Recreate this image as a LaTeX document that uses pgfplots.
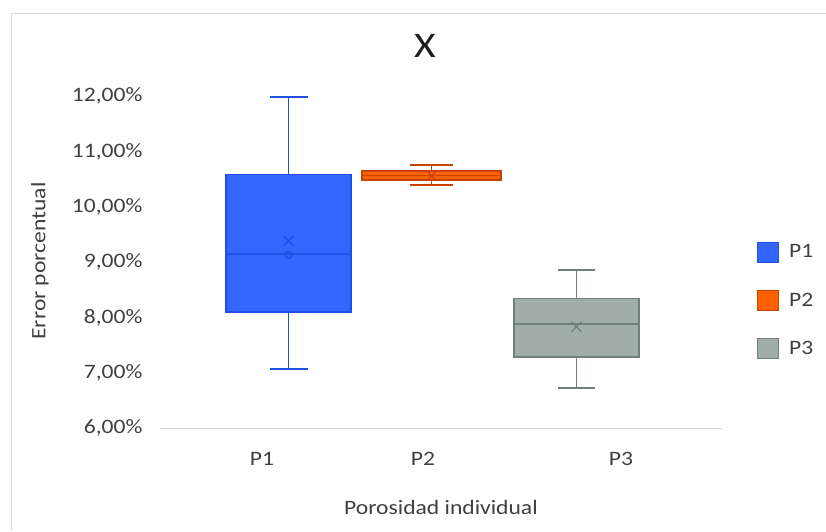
\documentclass[border=0pt]{standalone}
\usepackage{fontspec}
\setmainfont{Carlito}[FakeStretch=1.15]
\usepackage{pgfplots}
\pgfplotsset{compat=1.18}
\usepgfplotslibrary{statistics}
\definecolor{txt}{HTML}{404040}
\definecolor{ttl}{HTML}{1E1E1E}
\definecolor{frame}{HTML}{D9D9D9}
\definecolor{bluefill}{HTML}{3366FF}
\definecolor{blueline}{HTML}{1E4FE6}
\definecolor{orfill}{HTML}{FF6000}
\definecolor{orline}{HTML}{C84400}
\definecolor{grfill}{HTML}{A0ADA9}
\definecolor{grline}{HTML}{6E807C}
\begin{document}
\begin{tikzpicture}
\path[use as bounding box] (0pt,0pt) rectangle (826pt,531pt);
\draw[frame, line width=1pt] (11pt,0pt) -- (11pt,517pt) -- (826pt,517pt);
\begin{axis}[
  at={(160pt,103pt)}, anchor=south west,
  scale only axis, width=562pt, height=332pt,
  xmin=1.60, xmax=7.22, ymin=6, ymax=12,
  boxplot/draw direction=y,
  boxplot/every whisker/.style={line width=1.8pt},
  boxplot/every box/.style={line width=1.8pt},
  boxplot/every median/.style={line width=1.6pt},
  axis x line*=bottom, axis y line*=left,
  axis line style={draw=none},
  xtick={2.62,4.23,6.21}, xticklabels={P1,P2,P3},
  ytick={6,7,8,9,10,11,12},
  yticklabels={{6,00\%},{7,00\%},{8,00\%},{9,00\%},{10,00\%},{11,00\%},{12,00\%}},
  major tick length=0pt,
  tick label style={font=\fontsize{20.5}{24}\selectfont, text=txt},
  xticklabel style={yshift=-21pt},
  yticklabel style={xshift=-14pt},
  ylabel={Error porcentual},
  xlabel={Porosidad individual},
  label style={font=\fontsize{20.5}{24}\selectfont, text=txt},
  ylabel style={at={(axis description cs:-0.2135,0.503)}, anchor=center},
  xlabel style={at={(axis description cs:0.5,-0.238)}, anchor=center},
  title={X},
  title style={at={(axis description cs:0.4715,1.133)}, anchor=center, font=\fontsize{36}{40}\selectfont, text=ttl},
  legend style={at={(axis description cs:1.0623,0.562)}, anchor=north west, draw=none, fill=none,
     font=\fontsize{20.5}{24}\selectfont, text=txt, inner sep=0pt, row sep=27pt,
     nodes={inner sep=0pt}, column sep=10pt},
  legend cell align=left,
  legend image code/.code={\draw[#1] (0pt,-10pt) rectangle (21pt,10pt);},
  clip=false,
]
\draw[frame, line width=1pt] (axis cs:1.60,6) -- (axis cs:7.22,6);
\addplot[forget plot, fill=bluefill, draw=blueline, line width=1.6pt,
  boxplot prepared={draw position=2.885, box extend=1.25, whisker extend=0.38,
    lower whisker=7.07, lower quartile=8.09, median=9.14, upper quartile=10.58, upper whisker=11.98}]
  coordinates {};
\addplot[forget plot, fill=orfill, draw=orline, line width=1.6pt,
  boxplot prepared={draw position=4.315, box extend=1.39, whisker extend=0.43,
    lower whisker=10.39, lower quartile=10.48, median=10.565, upper quartile=10.65, upper whisker=10.75}]
  coordinates {};
\addplot[forget plot, fill=grfill, draw=grline, line width=1.6pt,
  boxplot prepared={draw position=5.765, box extend=1.25, whisker extend=0.37,
    lower whisker=6.73, lower quartile=7.28, median=7.88, upper quartile=8.34, upper whisker=8.85}]
  coordinates {};
% means
\addplot[forget plot, only marks, mark=x, mark size=7pt, draw=blueline, line width=1.3pt] coordinates {(2.885,9.38)};
\addplot[forget plot, only marks, mark=x, mark size=6pt, draw=orline, line width=1.3pt] coordinates {(4.315,10.56)};
\addplot[forget plot, only marks, mark=x, mark size=7pt, draw=grline, line width=1.3pt] coordinates {(5.765,7.83)};
% inner point
\addplot[forget plot, only marks, mark=o, mark size=3.5pt, draw=blueline, line width=1.3pt] coordinates {(2.885,9.13)};
\addlegendimage{fill=bluefill, draw=blueline, line width=1pt}
\addlegendentry{P1}
\addlegendimage{fill=orfill, draw=orline, line width=1pt}
\addlegendentry{P2}
\addlegendimage{fill=grfill, draw=grline, line width=1pt}
\addlegendentry{P3}
\end{axis}
\end{tikzpicture}
\end{document}
